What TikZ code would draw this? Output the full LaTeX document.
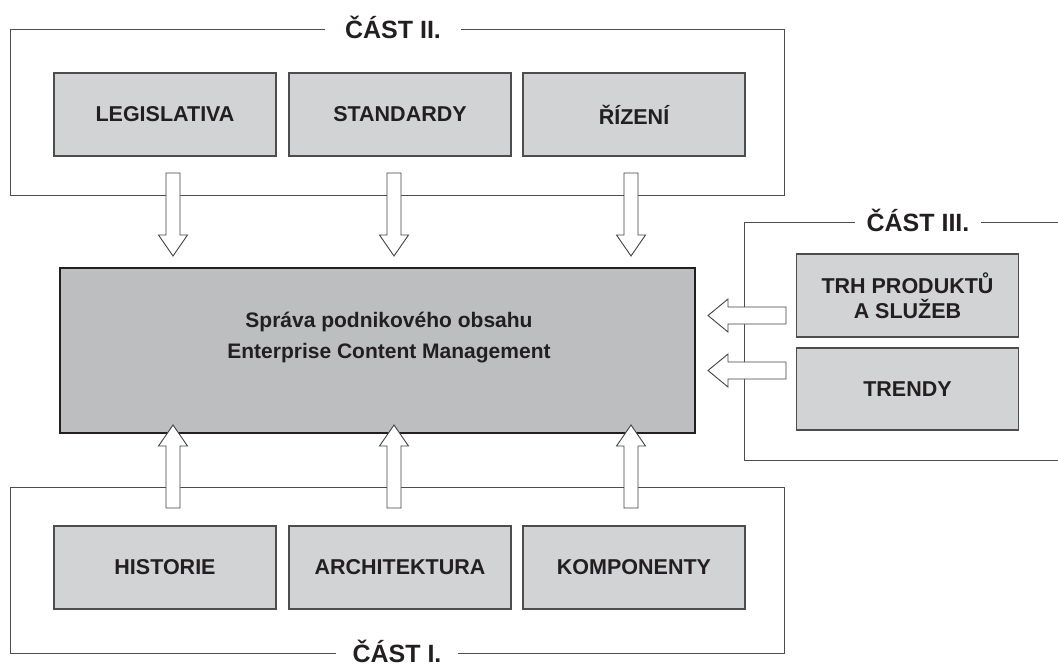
\documentclass[tikz,border=0pt]{standalone}
\usepackage{fontspec}
\setmainfont{Liberation Sans}
\usetikzlibrary{calc}
\definecolor{ink}{HTML}{231F20}
\definecolor{boxgray}{HTML}{D1D3D4}
\definecolor{coregray}{HTML}{BCBEC0}
\definecolor{framegray}{HTML}{4D4D4D}
\def\blockarrow[#1](#2)(#3:#4:#5:#6:#7){\draw[#1, shift={(#2)}, rotate=#3] (0, -#5) -- (#4-#7, -#5) -- (#4-#7, -#6) -- (#4, 0) -- (#4-#7, #6) -- (#4-#7, #5) -- (0, #5) -- cycle;}

\begin{document}
\begin{tikzpicture}[x=1pt, y=-1pt,
		unit/.style={draw=ink!80, line width=1.2pt, fill=boxgray, minimum width=222pt, minimum height=83pt, inner sep=0pt, font=\fontsize{21.5}{25}\selectfont\bfseries, text=ink, align=center},
		core/.style={draw=ink, line width=2.2pt, fill=coregray, minimum width=635pt, minimum height=165pt},
		coretext/.style={font=\fontsize{21}{31}\selectfont\bfseries, text=ink, align=center},
		part/.style={font=\fontsize{25}{30}\selectfont\bfseries, text=ink, text height=18pt, text depth=0pt, inner ysep=0pt},
		frame/.style={draw=framegray, line width=1pt},
		blockarr/.style={draw=ink!85, line width=0.9pt, fill=white, line join=miter}]
		%%%%% START %%%%%
		
		\useasboundingbox (0, 0) rectangle (1058, 667);
		
		% frame titles
		\node[part, inner xsep=19.5pt] (part2) at (393, 29) {ČÁST II.};
		\node[part, inner xsep=16.5pt] (part1) at (397, 653) {ČÁST I.};
		\node[part, inner xsep=11.5pt] (part3) at (918, 222) {ČÁST III.};
		
		\draw[frame] (part2.west) -| (10, 195) -| (784, 29) -- (part2.east);
		\draw[frame] (part1.west) -| (10, 487) -| (784, 653) -- (part1.east);
		\draw[frame] (part3.west) -| (744, 460) -- (1062, 460);
		\draw[frame] (part3.east) -- (1062, 222);
		
		% part II
		\node[unit] (legis) at (165, 114.5) {LEGISLATIVA};
		\node[unit] (stand) at (400, 114.5) {STANDARDY};
		\node[unit] (rizeni) at (634, 114.5) {ŘÍZENÍ};
		
		% part I
		\node[unit] (hist) at (165, 567.5) {HISTORIE};
		\node[unit] (arch) at (400, 567.5) {ARCHITEKTURA};
		\node[unit] (komp) at (634, 567.5) {KOMPONENTY};
		
		% part III
		\node[unit] (trh) at (907.5, 295.5) {TRH PRODUKTŮ\\A SLUŽEB};
		\node[unit, minimum height=82pt] (trendy) at (907.5, 389) {TRENDY};
		
		% core
		\node[core] (ecm) at (377.5, 350.5) {};
		\node[coretext] (ecmtext) at (389, 338) {Správa podnikového obsahu\\Enterprise Content Management};
		
		% arrows
		\coordinate (dn1) at (173, 173);
		\coordinate (dn2) at (394, 173);
		\coordinate (dn3) at (631, 173);
		\coordinate (up1) at (173, 508);
		\coordinate (up2) at (394, 508);
		\coordinate (up3) at (631, 508);
		\coordinate (lt1) at (786, 315.5);
		\coordinate (lt2) at (786, 370.5);
		
		\foreach \i in {1,2,3} {
			\blockarrow[blockarr](dn\i)(-90:83:7:14.5:21)
			\blockarrow[blockarr](up\i)(90:83:7:14.5:21)
		}
		\foreach \i in {1,2} {
			\blockarrow[blockarr](lt\i)(180:78:8.5:16.5:20)
		}
		
		%%%%% END %%%%%
	\end{tikzpicture}
\end{document}
